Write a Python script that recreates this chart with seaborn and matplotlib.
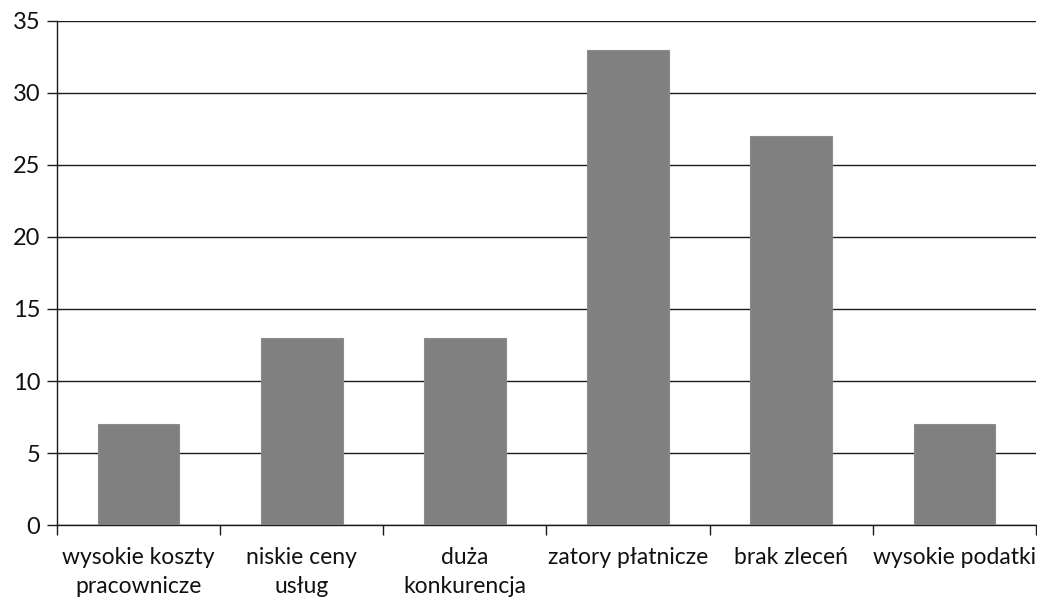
import matplotlib
matplotlib.use("Agg")
import matplotlib.pyplot as plt
import seaborn as sns
import pandas as pd

categories = [
    "wysokie koszty\npracownicze",
    "niskie ceny\nusług",
    "duża\nkonkurencja",
    "zatory płatnicze",
    "brak zleceń",
    "wysokie podatki",
]
values = [7, 13, 13, 33, 27, 7]
y_ticks = [0, 5, 10, 15, 20, 25, 30, 35]

sns.set_theme(style="white")
plt.rcParams["font.family"] = ["Lato", "DejaVu Sans"]

df = pd.DataFrame({"kategoria": categories, "liczba": values})

fig = plt.figure(figsize=(10.37, 5.98), dpi=100)
ax = fig.add_axes([0.055, 0.122, 0.944, 0.843])

sns.barplot(data=df, x="kategoria", y="liczba", color="#808080",
            saturation=1, width=0.5, edgecolor="#8c8c8c", linewidth=0.8,
            ax=ax, zorder=3)

ax.set_ylim(0, 35)
ax.set_yticks(y_ticks)
ax.set_xlim(-0.5, len(categories) - 0.5)
ax.yaxis.grid(True, color="#1a1a1a", linewidth=1.0)
ax.set_axisbelow(True)

for s in ["top", "right"]:
    ax.spines[s].set_visible(False)
for s in ["left", "bottom"]:
    ax.spines[s].set_color("#1a1a1a")
    ax.spines[s].set_linewidth(1.0)

ax.set_xlabel("")
ax.set_ylabel("")

# x ticks at category boundaries, labels centred between them
ax.set_xticks([i - 0.5 for i in range(len(categories) + 1)], minor=False)
ax.set_xticklabels([""] * (len(categories) + 1))
ax.set_xticks(list(range(len(categories))), minor=True)
ax.set_xticklabels(categories, minor=True, fontsize=16.5, color="#111111",
                   linespacing=1.45)
ax.tick_params(axis="x", which="major", direction="out", length=7,
               width=1.0, color="#1a1a1a", bottom=True)
ax.tick_params(axis="x", which="minor", length=0, pad=16, bottom=True)
ax.tick_params(axis="y", direction="out", length=7, width=1.0,
               color="#1a1a1a", left=True, labelsize=17, labelcolor="#111111",
               pad=5)
for lbl in ax.get_xticklabels(minor=True):
    lbl.set_verticalalignment("top")

fig.savefig("out.png", dpi=100)
